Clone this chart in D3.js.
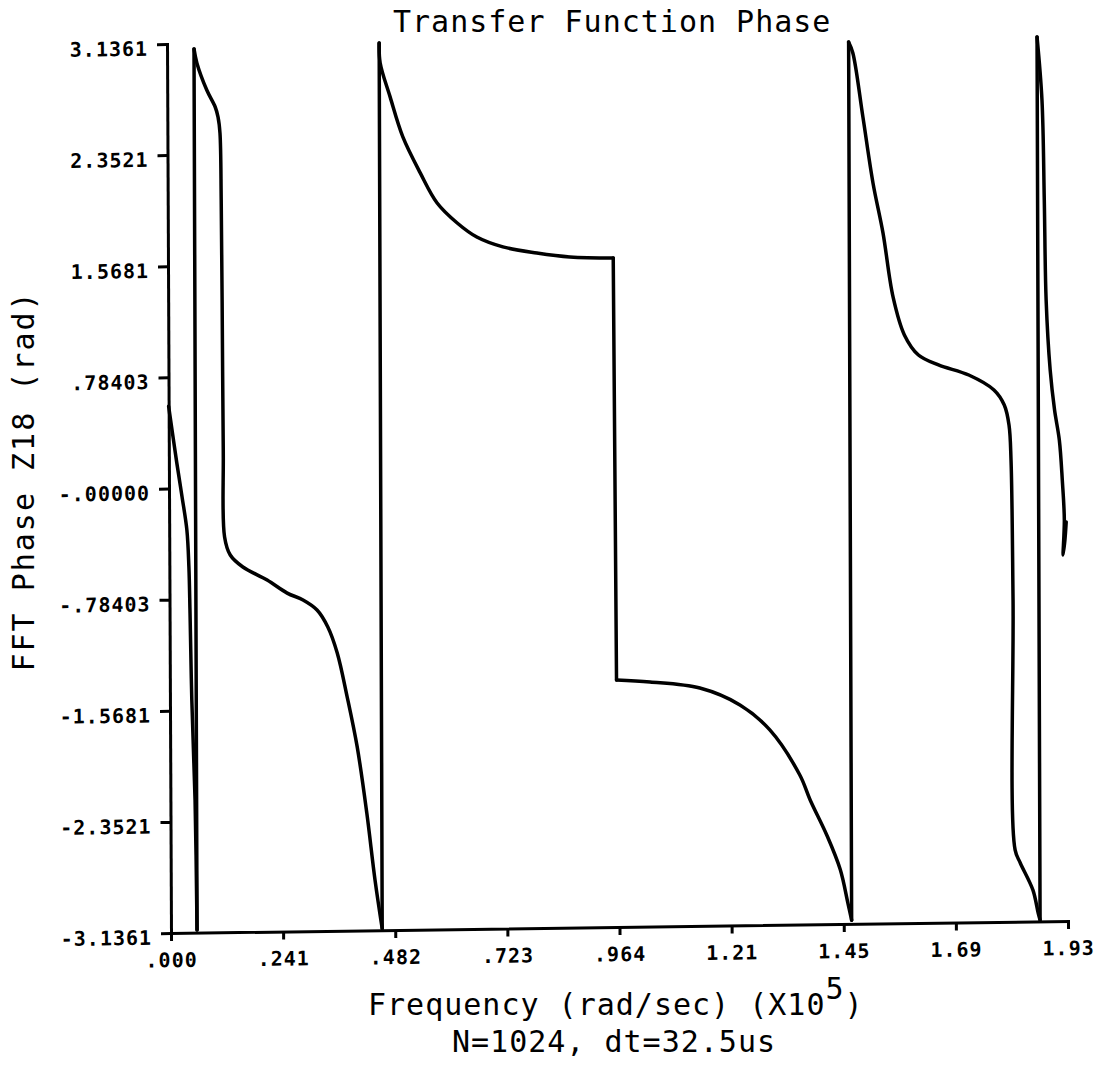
<!DOCTYPE html>
<html>
<head>
<meta charset="utf-8">
<script src="https://cdn.jsdelivr.net/npm/d3@7"></script>
<style>
  html, body { margin: 0; padding: 0; background: #fff; }
  svg { display: block; background: #fff; }
</style>
</head>
<body>
<svg id="chart" width="1104" height="1065"></svg>
<script>
// ---- data ----
const freq = [
  0.000, 0.017, 0.028, 0.038, 0.042, 0.044, 0.047, 0.053, 0.056,
  0.058, 0.064, 0.085, 0.103, 0.109, 0.113, 0.115, 0.116, 0.117, 0.119, 0.131, 0.158, 0.210, 0.253, 0.287, 0.317, 0.340, 0.360, 0.381, 0.402, 0.422, 0.439, 0.454,
  0.456, 0.458, 0.479, 0.506, 0.543, 0.579, 0.622, 0.664, 0.720, 0.793, 0.864, 0.957,
  0.960, 1.032, 1.139, 1.225, 1.289, 1.353, 1.375, 1.411, 1.439, 1.455, 1.463,
  1.465, 1.474, 1.495, 1.516, 1.537, 1.558, 1.582, 1.612, 1.655, 1.720, 1.774, 1.796, 1.806, 1.810, 1.813, 1.815, 1.826, 1.853, 1.864, 1.868,
  1.870, 1.880, 1.884, 1.887, 1.895, 1.904, 1.914, 1.920, 1.924, 1.921, 1.925, 1.928
];
const phase = [
  0.58, 0.180, -0.061, -0.294, -0.555, -0.880, -1.494, -2.200, -3.117,
  3.099, 3.000, 2.808, 2.687, 2.616, 2.503, 2.031, 1.325, 0.267, -0.347, -0.475, -0.561, -0.655, -0.749, -0.799, -0.871, -0.992, -1.176, -1.488, -1.841, -2.308, -2.781, -3.125,
  3.123, 2.982, 2.742, 2.458, 2.203, 1.989, 1.846, 1.745, 1.673, 1.627, 1.596, 1.585,
  -1.393, -1.410, -1.458, -1.581, -1.760, -2.081, -2.258, -2.512, -2.752, -2.987, -3.110,
  3.086, 3.008, 2.555, 2.089, 1.736, 1.283, 1.014, 0.871, 0.799, 0.725, 0.617, 0.510, 0.369, 0.121, -0.867, -2.630, -2.722, -2.915, -3.077, -3.126,
  3.104, 2.658, 1.953, 1.247, 0.753, 0.471, 0.258, -0.025, -0.307, -0.554, -0.450, -0.321
];
const xTickValues = [0, 0.241, 0.482, 0.723, 0.964, 1.205, 1.446, 1.687, 1.928];
const xTickLabels = [".000", ".241", ".482", ".723", ".964", "1.21", "1.45", "1.69", "1.93"];
const yTickValues = [-3.1361, -2.3521, -1.5681, -0.78403, 0, 0.78403, 1.5681, 2.3521, 3.1361];
const yTickLabels = ["-3.1361", "-2.3521", "-1.5681", "-.78403", "-.00000", ".78403", "1.5681", "2.3521", "3.1361"];

const titleText = "Transfer Function Phase";
const xLabelText = "Frequency (rad/sec) (X10";
const xLabelSup = "5";
const subLabelText = "N=1024, dt=32.5us";
const yLabelText = "FFT Phase Z18 (rad)";

// ---- drawing ----
const svg = d3.select("#chart");
const FONT = "'DejaVu Sans Mono', 'Liberation Mono', monospace";

const x = d3.scaleLinear().domain([0, 1.928]).range([171, 1068]);
const y = d3.scaleLinear().domain([-3.1361, 3.1361]).range([933, 44]);

// slight skew of the scanned plot
const plot = svg.append("g")
  .attr("transform", "translate(171,933) matrix(1,-0.0134,0.0045,1,0,0) translate(-171,-933)");

const xAxis = plot.append("g")
  .attr("transform", "translate(0,933)")
  .call(d3.axisBottom(x).tickValues(xTickValues)
    .tickFormat((d, i) => xTickLabels[i])
    .tickSize(8).tickSizeOuter(0).tickPadding(12));

const yAxis = plot.append("g")
  .attr("transform", "translate(171,0)")
  .call(d3.axisLeft(y).tickValues(yTickValues)
    .tickFormat((d, i) => yTickLabels[i])
    .tickSize(10).tickSizeOuter(0).tickPadding(9));

[xAxis, yAxis].forEach(a => {
  a.attr("font-family", FONT).attr("font-size", 20).attr("font-weight", "bold");
  a.select(".domain").attr("stroke", "#000").attr("stroke-width", 3).attr("stroke-linecap", "square");
  a.selectAll(".tick line").attr("stroke", "#000").attr("stroke-width", 3);
  a.selectAll(".tick text").attr("fill", "#000").style("letter-spacing", "1px");
});
yAxis.selectAll(".tick text").attr("dy", "0.55em");

// split the trace at phase jumps; smooth each piece, join jumps with straight lines
const pts = d3.zip(freq, phase);
const segments = [];
const jumps = [];
let cur = [pts[0]];
for (let i = 1; i < pts.length; i++) {
  if (Math.abs(pts[i][1] - pts[i - 1][1]) > 2.5) {
    segments.push(cur);
    jumps.push([pts[i - 1], pts[i]]);
    cur = [pts[i]];
  } else {
    cur.push(pts[i]);
  }
}
segments.push(cur);

const smooth = d3.line()
  .x(d => x(d[0]))
  .y(d => y(d[1]))
  .curve(d3.curveCatmullRom.alpha(0.5));
const straight = d3.line()
  .x(d => x(d[0]))
  .y(d => y(d[1]));

const trace = plot.append("g")
  .attr("fill", "none")
  .attr("stroke", "#000")
  .attr("stroke-width", 3.5)
  .attr("stroke-linejoin", "round")
  .attr("stroke-linecap", "round");

trace.selectAll("path.seg").data(segments).join("path")
  .attr("class", "seg")
  .attr("d", smooth);
trace.selectAll("path.jump").data(jumps).join("path")
  .attr("class", "jump")
  .attr("d", straight);

// titles
svg.append("text")
  .attr("x", 393).attr("y", 32)
  .attr("font-family", FONT).attr("font-size", 30)
  .style("letter-spacing", "1px")
  .text(titleText);

const xl = svg.append("text")
  .attr("x", 368).attr("y", 1015)
  .attr("font-family", FONT).attr("font-size", 30)
  .style("letter-spacing", "1px");
xl.append("tspan").text(xLabelText);
xl.append("tspan").attr("dy", -16).text(xLabelSup);
xl.append("tspan").attr("dy", 16).text(")");

svg.append("text")
  .attr("x", 452).attr("y", 1052)
  .attr("font-family", FONT).attr("font-size", 30)
  .style("letter-spacing", "1px")
  .text(subLabelText);

svg.append("text")
  .attr("transform", "translate(34,481) rotate(-90)")
  .attr("text-anchor", "middle")
  .attr("font-family", FONT).attr("font-size", 30)
  .style("letter-spacing", "2px")
  .text(yLabelText);
</script>
</body>
</html>
